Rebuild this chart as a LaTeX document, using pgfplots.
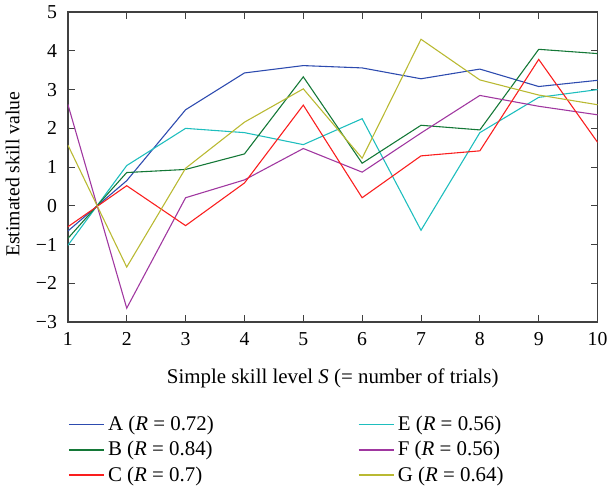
\documentclass[border=0pt]{standalone}
\usepackage{fontspec}
\setmainfont{Liberation Serif}
\usepackage{pgfplots}
\pgfplotsset{compat=1.18}

\definecolor{lineA}{RGB}{45,75,175}
\definecolor{lineB}{RGB}{20,120,55}
\definecolor{lineC}{RGB}{250,30,30}
\definecolor{lineE}{RGB}{30,190,190}
\definecolor{lineF}{RGB}{160,55,160}
\definecolor{lineG}{RGB}{185,185,50}

\begin{document}
\begin{tikzpicture}
\begin{axis}[
    scale only axis,
    width=316.8pt, height=185.4pt,
    xmin=1, xmax=10, ymin=-3, ymax=5,
    xtick={1,...,10},
    ytick={-3,...,5},
    yticklabels={−3,−2,−1,0,1,2,3,4,5},
    tick align=inside,
    major tick length=4pt,
    axis line style={draw=black!75, line width=0.9pt},
    tick style={draw=black!75, line width=0.6pt},
    tick label style={font=\fontsize{11.8}{14}\selectfont},
    yticklabel style={xshift=-3pt},
    xticklabel style={yshift=-2.5pt},
    /pgf/number format/assume math mode=true,
    xlabel={Simple skill level \textit{S} (= number of trials)},
    ylabel={Estimated skill value},
    label style={font=\fontsize{12.5}{14}\selectfont},
    xlabel style={yshift=-6.9pt},
    ylabel style={font=\fontsize{11.8}{14}\selectfont, at={(ticklabel cs:0.477)}, yshift=3pt},
    every axis plot/.append style={line width=0.65pt},
    legend columns=2,
    legend cell align={left},
    legend image code/.code={\draw[#1, line width=1pt] (0pt,0pt) -- (21pt,0pt);},
    legend style={at={(-0.01,-0.28)}, anchor=north west, draw=none, fill=none,
        font=\fontsize{12.5}{14}\selectfont, row sep=1pt,
        /tikz/every even column/.append style={column sep=84pt}},
]
\addplot[draw=lineA] coordinates {(1,-0.65) (2,0.65) (3,2.48) (4,3.43) (5,3.62) (6,3.56) (7,3.28) (8,3.53) (9,3.08) (10,3.24)};
\addlegendentry{A (\textit{R} = 0.72)}
\addplot[draw=lineE] coordinates {(1,-1.02) (2,1.04) (3,2.00) (4,1.89) (5,1.58) (6,2.25) (7,-0.63) (8,1.89) (9,2.80) (10,3.00)};
\addlegendentry{E (\textit{R} = 0.56)}
\addplot[draw=lineB] coordinates {(1,-0.84) (2,0.86) (3,0.94) (4,1.34) (5,3.33) (6,1.10) (7,2.08) (8,1.96) (9,4.04) (10,3.93)};
\addlegendentry{B (\textit{R} = 0.84)}
\addplot[draw=lineF] coordinates {(1,2.62) (2,-2.64) (3,0.21) (4,0.67) (5,1.48) (6,0.87) (7,1.88) (8,2.85) (9,2.57) (10,2.35)};
\addlegendentry{F (\textit{R} = 0.56)}
\addplot[draw=lineC] coordinates {(1,-0.54) (2,0.52) (3,-0.51) (4,0.59) (5,2.60) (6,0.21) (7,1.29) (8,1.42) (9,3.78) (10,1.64)};
\addlegendentry{C (\textit{R} = 0.7)}
\addplot[draw=lineG] coordinates {(1,1.57) (2,-1.58) (3,0.97) (4,2.16) (5,3.02) (6,1.23) (7,4.30) (8,3.25) (9,2.86) (10,2.61)};
\addlegendentry{G (\textit{R} = 0.64)}
\end{axis}
\end{tikzpicture}
\end{document}
